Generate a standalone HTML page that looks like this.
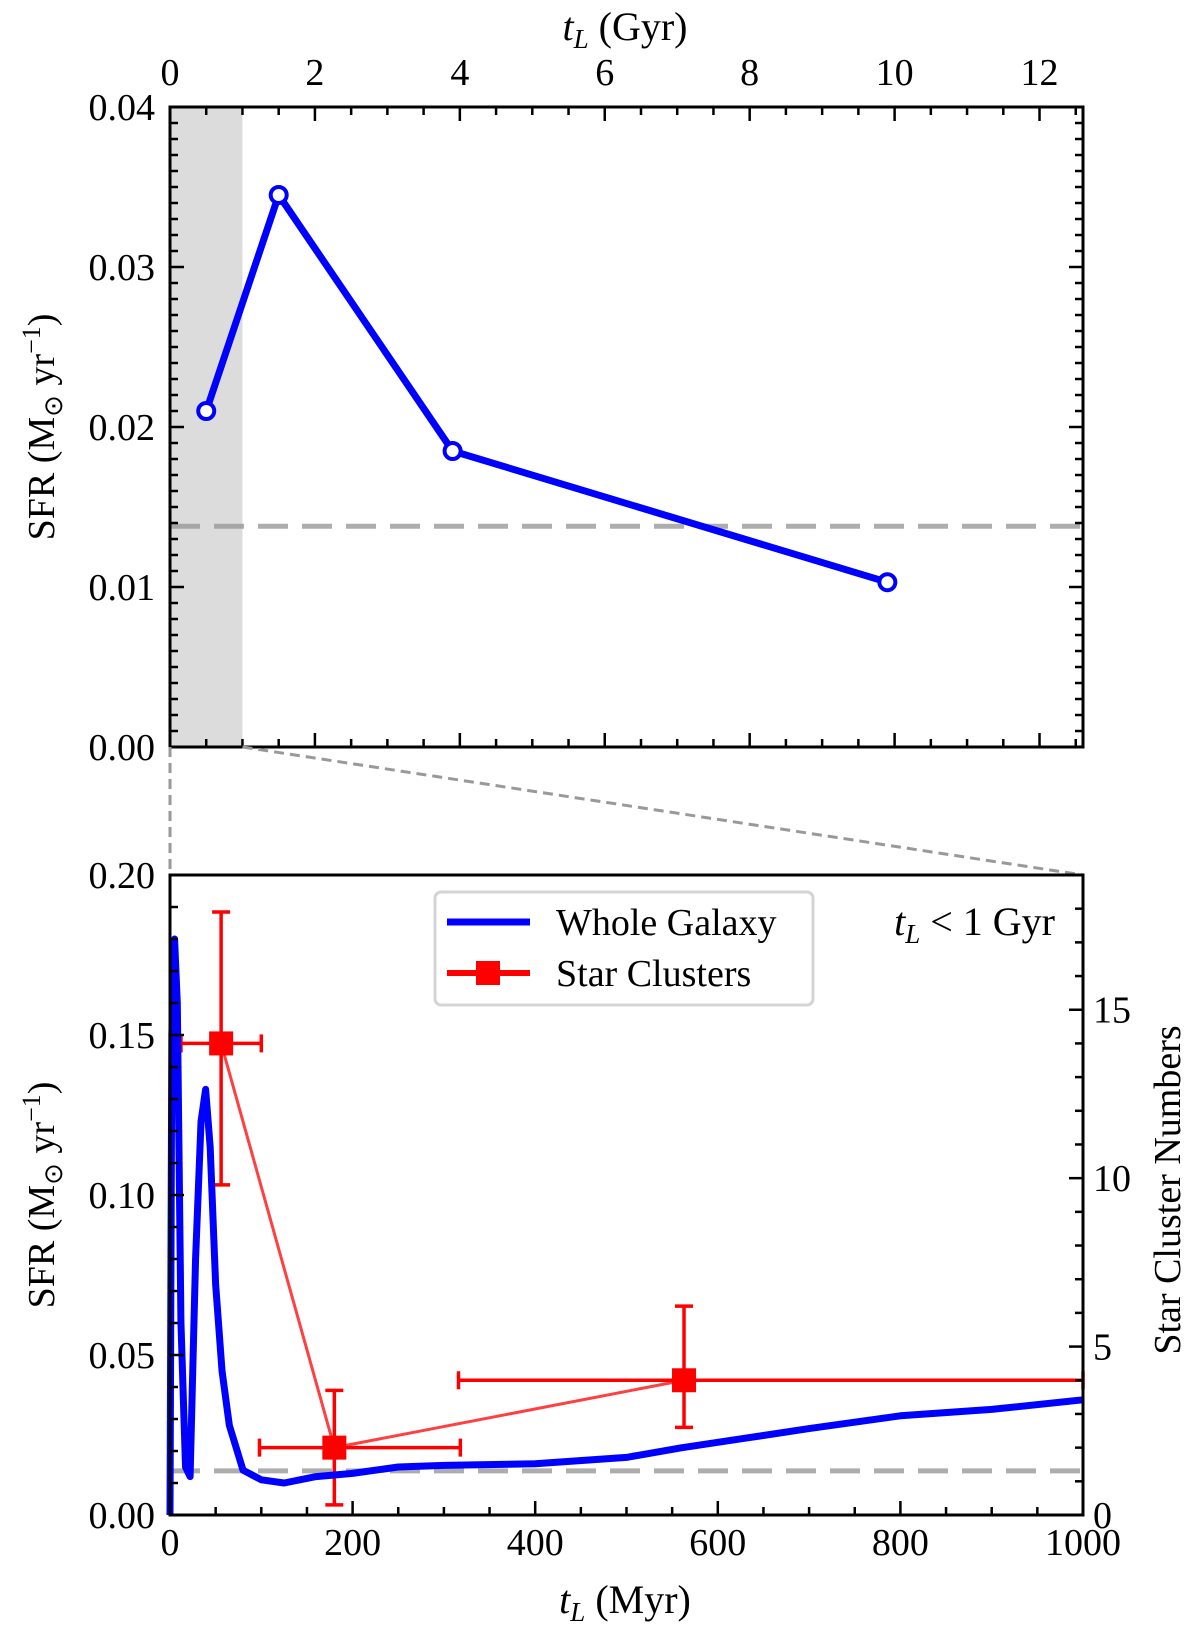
<!DOCTYPE html>
<html><head><meta charset="utf-8"><style>
body{margin:0;background:#fff;}
svg text{font-family:"Liberation Serif",serif;fill:#000;}
</style></head><body>
<svg id="fig" width="1200" height="1629" viewBox="0 0 1200 1629" xmlns="http://www.w3.org/2000/svg"></svg>
<script>
// Top panel data
const topT = [0.5, 1.5, 3.9, 9.9];
const topSFR = [0.021, 0.0345, 0.0185, 0.0103];
const meanSFR = 0.0138;
const topXTicks = [0, 2, 4, 6, 8, 10, 12];
const topYTicks = [0, 0.01, 0.02, 0.03, 0.04];
// Bottom panel data
const galT = [0, 2, 5, 8, 12, 17, 22, 28, 34, 39, 44, 50, 57, 65, 80, 100, 125, 160, 200, 250, 300, 400, 500, 560, 630, 700, 800, 900, 1000];
const galSFR = [0, 0.15, 0.18, 0.16, 0.06, 0.015, 0.012, 0.08, 0.123, 0.133, 0.115, 0.072, 0.045, 0.028, 0.014, 0.011, 0.010, 0.012, 0.013, 0.015, 0.0155, 0.016, 0.018, 0.021, 0.024, 0.027, 0.031, 0.033, 0.036];
const clT = [56, 180, 563];
const clN = [14, 2, 4];
const clTlo = [12, 98, 316];
const clThi = [100, 318, 1000];
const clNlo = [9.8, 0.3, 2.6];
const clNhi = [17.9, 3.7, 6.2];
const botXTicks = [0, 200, 400, 600, 800, 1000];
const botYTicks = [0, 0.05, 0.10, 0.15, 0.20];
const rightTicks = [0, 5, 10, 15];

const NS = "http://www.w3.org/2000/svg";
const svg = document.getElementById('fig');
function mk(tag, attrs, parent) {
  const e = document.createElementNS(NS, tag);
  for (const k in attrs) e.setAttribute(k, attrs[k]);
  (parent || svg).appendChild(e);
  return e;
}
function txt(x, y, s, size, anchor, parent) {
  const t = mk('text', {x: x, y: y, 'font-size': size, 'text-anchor': anchor || 'middle'}, parent);
  t.innerHTML = s;
  return t;
}
const FS = 38;
const L = 170, R = 1083;
const tT = 107, tB = 747;
const tx = v => L + v * (R - L) / 12.6;
const ty = v => tB - v * (tB - tT) / 0.04;
const bT = 875, bB = 1515;
const bx = v => L + v * (R - L) / 1000;
const by = v => bB - v * (bB - bT) / 0.2;
const byR = v => bB - v * (bB - bT) / 19;

// ---- top panel ----
const gTop = mk('g', {});


const shade = mk('rect', {x: tx(0), y: tT, width: tx(1) - tx(0), height: tB - tT, fill: '#dcdcdc'}, gTop);


const dashT = mk('line', {x1: L, x2: R, y1: ty(meanSFR), y2: ty(meanSFR), stroke: '#999', 'stroke-width': 5, 'stroke-dasharray': '30,14', opacity: 0.8}, gTop);


const topLine = mk('polyline', {points: topT.map((t, i) => tx(t) + ',' + ty(topSFR[i])).join(' '), fill: 'none', stroke: '#0000ff', 'stroke-width': 7, 'stroke-linejoin': 'round'}, gTop);


topT.forEach((t, i) => {
  const c = mk('circle', {cx: tx(t), cy: ty(topSFR[i]), r: 8, fill: '#fff', stroke: '#0000ff', 'stroke-width': 4}, gTop);
  
  
});
for (let v = 0; v <= 12.5; v += 0.5) {
  const maj = Math.abs(v - Math.round(v / 2) * 2) < 1e-6;
  const len = maj ? 14 : 8;
  mk('line', {x1: tx(v), x2: tx(v), y1: tT, y2: tT + len, stroke: '#000', 'stroke-width': 2.5}, gTop);
  mk('line', {x1: tx(v), x2: tx(v), y1: tB, y2: tB - len, stroke: '#000', 'stroke-width': 2.5}, gTop);
}
for (let k = 0; k <= 40; k++) {
  const v = k * 0.001, len = k % 10 === 0 ? 14 : 8;
  mk('line', {x1: L, x2: L + len, y1: ty(v), y2: ty(v), stroke: '#000', 'stroke-width': 2.5}, gTop);
  mk('line', {x1: R, x2: R - len, y1: ty(v), y2: ty(v), stroke: '#000', 'stroke-width': 2.5}, gTop);
}
topXTicks.forEach(v => { const t = txt(tx(v), 85, v, FS, 'middle', gTop);   });
topYTicks.forEach(v => { const t = txt(155, ty(v) + 13, v.toFixed(2), FS, 'end', gTop);   });
const frT = mk('rect', {x: L, y: tT, width: R - L, height: tB - tT, fill: 'none', stroke: '#000', 'stroke-width': 3}, gTop);


const topXT = txt(625, 40, '<tspan font-style="italic">t</tspan><tspan font-style="italic" font-size="27" dy="8">L</tspan><tspan dy="-8"> (Gyr)</tspan>', 40, 'middle', gTop);


const topYT = txt(0, 0, 'SFR (M<tspan font-size="26" dy="8">⊙</tspan><tspan dy="-8"> yr</tspan><tspan font-size="26" dy="-14">−1</tspan><tspan dy="14">)</tspan>', FS, 'middle', gTop);
topYT.setAttribute('transform', 'translate(54,' + ((tT + tB) / 2) + ') rotate(-90)');



const z1 = mk('line', {x1: L, y1: tB, x2: L, y2: bT, stroke: '#999', 'stroke-width': 3, 'stroke-dasharray': '10,6'});


const z2 = mk('line', {x1: tx(1), y1: tB, x2: R, y2: bT, stroke: '#999', 'stroke-width': 3, 'stroke-dasharray': '10,6'});



// ---- bottom panel ----
const gB = mk('g', {});


const dashB = mk('line', {x1: L, x2: R, y1: by(meanSFR), y2: by(meanSFR), stroke: '#999', 'stroke-width': 5, 'stroke-dasharray': '30,14', opacity: 0.8}, gB);


const cl = mk('polyline', {points: clT.map((t, i) => bx(t) + ',' + byR(clN[i])).join(' '), fill: 'none', stroke: '#ff0000', 'stroke-width': 3, opacity: 0.75}, gB);


clT.forEach((t, i) => {
  const g = mk('g', {stroke: '#ff0000', 'stroke-width': 3.5}, gB);
  
  
  mk('line', {x1: bx(clTlo[i]), x2: bx(clThi[i]), y1: byR(clN[i]), y2: byR(clN[i])}, g);
  mk('line', {x1: bx(t), x2: bx(t), y1: byR(clNlo[i]), y2: byR(clNhi[i])}, g);
  mk('line', {x1: bx(t) - 9, x2: bx(t) + 9, y1: byR(clNlo[i]), y2: byR(clNlo[i])}, g);
  mk('line', {x1: bx(t) - 9, x2: bx(t) + 9, y1: byR(clNhi[i]), y2: byR(clNhi[i])}, g);
  mk('line', {x1: bx(clTlo[i]), x2: bx(clTlo[i]), y1: byR(clN[i]) - 9, y2: byR(clN[i]) + 9}, g);
  mk('line', {x1: bx(clThi[i]), x2: bx(clThi[i]), y1: byR(clN[i]) - 9, y2: byR(clN[i]) + 9}, g);
  const s = mk('rect', {x: bx(t) - 12, y: byR(clN[i]) - 12, width: 24, height: 24, fill: '#ff0000', stroke: 'none'}, gB);
  
  
});
const gal = mk('polyline', {points: galT.map((t, i) => bx(t) + ',' + by(galSFR[i])).join(' '), fill: 'none', stroke: '#0000ff', 'stroke-width': 7, 'stroke-linejoin': 'round'}, gB);


for (let v = 0; v <= 1000; v += 50) {
  const len = v % 200 === 0 ? 14 : 8;
  mk('line', {x1: bx(v), x2: bx(v), y1: bB, y2: bB - len, stroke: '#000', 'stroke-width': 2.5}, gB);
}
for (let k = 0; k <= 20; k++) {
  const len = k % 5 === 0 ? 14 : 8;
  mk('line', {x1: L, x2: L + len, y1: by(k * 0.01), y2: by(k * 0.01), stroke: '#000', 'stroke-width': 2.5}, gB);
}
for (let k = 0; k <= 19; k++) {
  const len = k % 5 === 0 ? 14 : 8;
  mk('line', {x1: R, x2: R - len, y1: byR(k), y2: byR(k), stroke: '#000', 'stroke-width': 2.5}, gB);
}
botXTicks.forEach(v => { const t = txt(bx(v), 1555, v, FS, 'middle', gB);   });
botYTicks.forEach(v => { const t = txt(155, by(v) + 13, v.toFixed(2), FS, 'end', gB);   });
rightTicks.forEach(v => { const t = txt(1093, byR(v) + 13, v, FS, 'start', gB);   });
const frB = mk('rect', {x: L, y: bT, width: R - L, height: bB - bT, fill: 'none', stroke: '#000', 'stroke-width': 3}, gB);


const bxT = txt(625, 1613, '<tspan font-style="italic">t</tspan><tspan font-style="italic" font-size="27" dy="8">L</tspan><tspan dy="-8"> (Myr)</tspan>', 40, 'middle', gB);


const byT = txt(0, 0, 'SFR (M<tspan font-size="26" dy="8">⊙</tspan><tspan dy="-8"> yr</tspan><tspan font-size="26" dy="-14">−1</tspan><tspan dy="14">)</tspan>', FS, 'middle', gB);
byT.setAttribute('transform', 'translate(54,' + ((bT + bB) / 2) + ') rotate(-90)');


const ryT = txt(0, 0, 'Star Cluster Numbers', FS, 'middle', gB);
ryT.setAttribute('transform', 'translate(1180,1190) rotate(-90)');


const ann = txt(1055, 935, '<tspan font-style="italic">t</tspan><tspan font-style="italic" font-size="27" dy="8">L</tspan><tspan dy="-8"> &lt; 1 Gyr</tspan>', 40, 'end', gB);


const lg = mk('g', {}, gB);


mk('rect', {x: 435, y: 892, width: 378, height: 113, rx: 6, fill: '#fff', stroke: '#d0d0d0', 'stroke-width': 3, opacity: 0.9}, lg);
const le1 = mk('g', {}, lg);


mk('line', {x1: 447, x2: 530, y1: 922, y2: 922, stroke: '#0000ff', 'stroke-width': 7}, le1);
txt(556, 935, 'Whole Galaxy', FS, 'start', le1);
const le2 = mk('g', {}, lg);


mk('line', {x1: 447, x2: 530, y1: 973, y2: 973, stroke: '#ff0000', 'stroke-width': 6}, le2);
mk('rect', {x: 476, y: 961, width: 24, height: 24, fill: '#ff0000'}, le2);
txt(556, 986, 'Star Clusters', FS, 'start', le2);
</script>
</body></html>
